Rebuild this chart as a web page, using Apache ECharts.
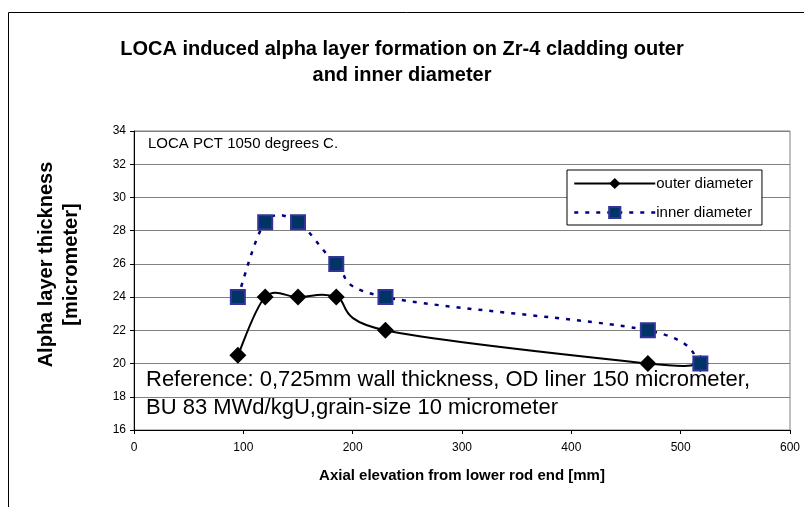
<!DOCTYPE html>
<html><head><meta charset="utf-8">
<script src="https://cdn.jsdelivr.net/npm/echarts@6/dist/echarts.min.js"></script>
<style>html,body{margin:0;padding:0;background:#fff}#c{width:804px;height:507px}</style>
</head><body><div id="c"></div>
<script>
const elevation = [95, 120, 150, 185, 230, 470, 518];
const outerDiameter = [20.5, 24, 24, 24, 22, 20, 20];
const innerDiameter = [24, 28.5, 28.5, 26, 24, 22, 20];
const seriesNames = ['outer diameter', 'inner diameter'];
const titleText = 'LOCA induced alpha layer formation on Zr-4 cladding outer\nand inner diameter';
const xName = 'Axial elevation from lower rod end [mm]';
const yName = 'Alpha layer thickness\n[micrometer]';
const note1 = 'LOCA PCT 1050 degrees C.';
const note2 = 'Reference: 0,725mm wall thickness, OD liner 150 micrometer,\nBU 83 MWd/kgU,grain-size 10 micrometer';

const F = 'Liberation Sans, Arial, sans-serif';
const outerLine = {color: '#000', width: 2, opacity: 1};
const innerLine = {color: '#000080', width: 2.5, type: [4, 7], opacity: 1};

// Excel-like smoothed curve (Catmull-Rom) through data points converted by the axes
function smoothCurve(ys, lineStyle) {
  return function (params, api) {
    const p = elevation.map((x, i) => api.coord([x, ys[i]]));
    const n = p.length;
    let d = 'M' + p[0][0] + ' ' + p[0][1];
    for (let i = 0; i < n - 1; i++) {
      const p0 = p[Math.max(i - 1, 0)], p1 = p[i], p2 = p[i + 1], p3 = p[Math.min(i + 2, n - 1)];
      const c1x = p1[0] + (p2[0] - p0[0]) / 6, c1y = p1[1] + (p2[1] - p0[1]) / 6;
      const c2x = p2[0] - (p3[0] - p1[0]) / 6, c2y = p2[1] - (p3[1] - p1[1]) / 6;
      d += ' C' + c1x + ' ' + c1y + ' ' + c2x + ' ' + c2y + ' ' + p2[0] + ' ' + p2[1];
    }
    return {
      type: 'path', shape: {pathData: d},
      style: {fill: 'none', stroke: lineStyle.color, lineWidth: lineStyle.width, lineDash: lineStyle.type || null}
    };
  };
}

const chart = echarts.init(document.getElementById('c'), null, {renderer: 'canvas'});
const pair = (xs, ys) => xs.map((x, i) => [x, ys[i]]);
chart.setOption({
  animation: false,
  backgroundColor: '#fff',
  title: {
    text: titleText, left: 'center', top: 31,
    textStyle: {fontFamily: F, fontWeight: 'bold', fontSize: 20, color: '#000', lineHeight: 26}
  },
  grid: {left: 134, top: 131, width: 656, height: 299, show: true, borderColor: '#808080', borderWidth: 1, containLabel: false},
  legend: {
    orient: 'vertical', left: 567, top: 170,
    padding: [6, 9, 5, 6], itemGap: 14, itemWidth: 81, itemHeight: 14,
    borderColor: '#000', borderWidth: 1, backgroundColor: '#fff',
    textStyle: {fontFamily: F, fontSize: 15, color: '#000', lineHeight: 14, padding: [0, 0, 0, -4]},
    data: [
      {name: seriesNames[0], lineStyle: outerLine},
      {name: seriesNames[1], lineStyle: innerLine}
    ]
  },
  xAxis: {
    type: 'value', min: 0, max: 600, interval: 100,
    name: xName, nameLocation: 'middle', nameGap: 38,
    nameTextStyle: {fontFamily: F, fontWeight: 'bold', fontSize: 15, color: '#000'},
    axisLine: {show: true, lineStyle: {color: '#000', width: 1}},
    axisTick: {show: true, length: 4, lineStyle: {color: '#000'}},
    axisLabel: {fontFamily: F, fontSize: 12, color: '#000', margin: 12},
    splitLine: {show: false}
  },
  yAxis: {
    type: 'value', min: 16, max: 34, interval: 2,
    name: yName, nameLocation: 'middle', nameGap: 50, nameRotate: 90,
    nameTextStyle: {fontFamily: F, fontWeight: 'bold', fontSize: 20, color: '#000', lineHeight: 25, padding: [0, 0, 0, 32]},
    axisLine: {show: true, lineStyle: {color: '#000', width: 1}},
    axisTick: {show: true, length: 4, lineStyle: {color: '#000'}},
    axisLabel: {fontFamily: F, fontSize: 12, color: '#000', margin: 8},
    splitLine: {show: true, lineStyle: {color: '#808080', width: 1}}
  },
  series: [
    {
      type: 'custom', silent: true, z: 2, data: [[elevation[0], outerDiameter[0]]],
      renderItem: smoothCurve(outerDiameter, outerLine)
    },
    {
      type: 'custom', silent: true, z: 2, data: [[elevation[0], innerDiameter[0]]],
      renderItem: smoothCurve(innerDiameter, innerLine)
    },
    {
      name: seriesNames[0], type: 'line', data: pair(elevation, outerDiameter),
      symbol: 'diamond', symbolSize: 17,
      lineStyle: {color: '#000', width: 2, opacity: 0},
      itemStyle: {color: '#000', borderColor: '#000', borderWidth: 0},
      z: 3
    },
    {
      name: seriesNames[1], type: 'line', data: pair(elevation, innerDiameter),
      symbol: 'rect', symbolSize: 14,
      lineStyle: {color: '#000080', width: 2.5, opacity: 0},
      itemStyle: {color: '#003366', borderColor: '#333399', borderWidth: 2},
      z: 4
    }
  ],
  graphic: [
    {type: 'rect', shape: {x: 8.5, y: 12.5, width: 800, height: 500}, style: {fill: 'none', stroke: '#000', lineWidth: 1}, silent: true, z: -1},
    {type: 'text', left: 148, top: 136, style: {text: note1, font: '15px ' + F, fill: '#000'}, z: 10},
    {type: 'text', left: 146, top: 366, style: {text: note2, font: '22px ' + F, fill: '#000', lineHeight: 28}, z: 10}
  ]
});
</script></body></html>
